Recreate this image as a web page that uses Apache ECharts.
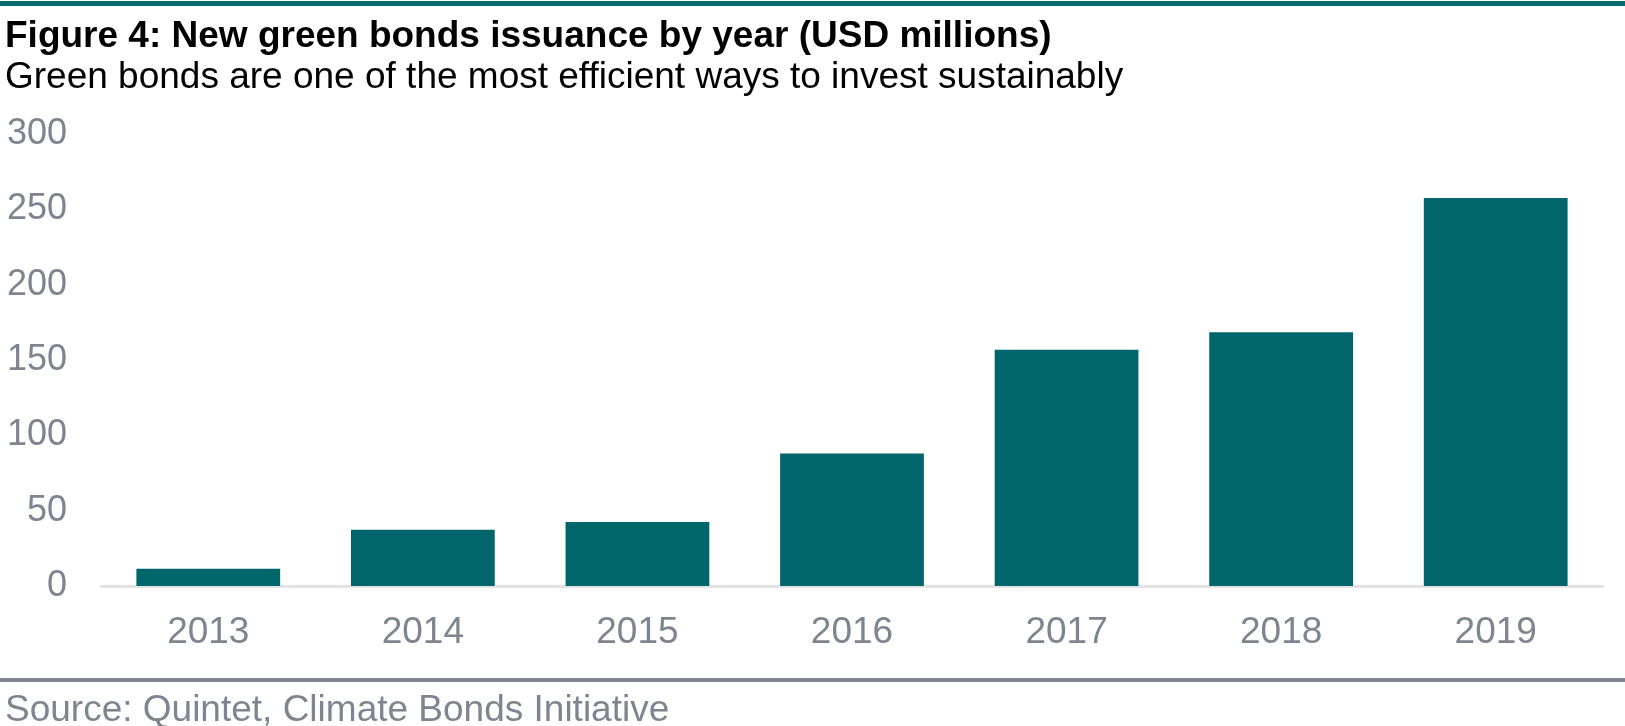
<!DOCTYPE html>
<html>
<head>
<meta charset="utf-8">
<script src="https://cdn.jsdelivr.net/npm/echarts@6/dist/echarts.min.js"></script>
<style>
html,body{margin:0;padding:0;background:#fff;}
#chart{width:1625px;height:726px;}
</style>
</head>
<body>
<div id="chart"></div>
<script>
const categories = ['2013', '2014', '2015', '2016', '2017', '2018', '2019'];
const issuance = [11.5, 37.3, 42.5, 88, 156.8, 168.5, 257.5];
const yTicks = [0, 50, 100, 150, 200, 250, 300];

const titleText = 'Figure 4: New green bonds issuance by year (USD millions)';
const subtitleText = 'Green bonds are one of the most efficient ways to invest sustainably';
const sourceText = 'Source: Quintet, Climate Bonds Initiative';

const chart = echarts.init(document.getElementById('chart'), null, {renderer: 'canvas'});
const font = '"Liberation Sans", Arial, sans-serif';
chart.setOption({
  animation: false,
  backgroundColor: '#ffffff',
  grid: {left: 101, right: 22, top: 134, bottom: 140, containLabel: false},
  xAxis: {
    type: 'category',
    data: categories,
    axisLine: {show: true, lineStyle: {color: '#e3e3e3', width: 3}},
    axisTick: {show: false},
    axisLabel: {color: '#7f8590', fontSize: 37, fontFamily: font, margin: 28}
  },
  yAxis: {
    type: 'value',
    min: yTicks[0],
    max: yTicks[yTicks.length - 1],
    interval: 50,
    axisLine: {show: false},
    axisTick: {show: false},
    splitLine: {show: false},
    axisLabel: {color: '#7f8590', fontSize: 36, fontFamily: font, margin: 34}
  },
  series: [{
    type: 'bar',
    data: issuance,
    barCategoryGap: '33%',
    itemStyle: {color: '#00666b'}
  }],
  graphic: [
    {type: 'rect', left: 0, top: 1, shape: {width: 1625, height: 5}, style: {fill: '#006a6e'}},
    {type: 'text', left: 5, top: 18, style: {text: titleText, fill: '#000', font: 'bold 37px ' + font}},
    {type: 'text', left: 5, top: 59, style: {text: subtitleText, fill: '#000', font: '37px ' + font}},
    {type: 'rect', left: 0, top: 678, shape: {width: 1625, height: 4}, style: {fill: '#7f8590'}},
    {type: 'text', left: 5, top: 692, style: {text: sourceText, fill: '#7f8590', font: '37px ' + font}}
  ]
});
</script>
</body>
</html>
